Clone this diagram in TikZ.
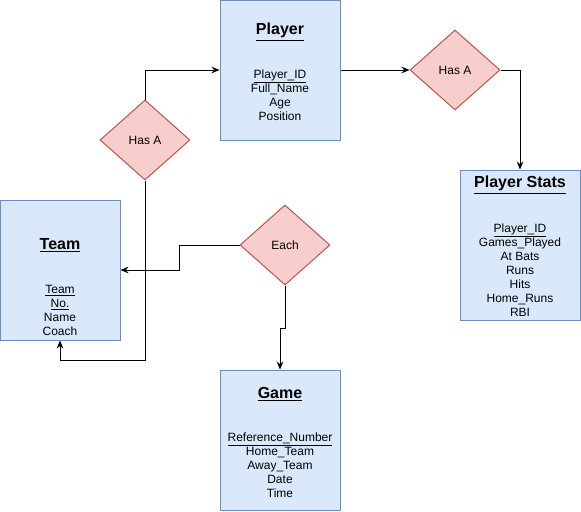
\documentclass[tikz,border=0pt]{standalone}
\usepackage{fontspec}
\setmainfont{Liberation Sans}
\usetikzlibrary{shapes.geometric,arrows.meta}
\definecolor{boxfill}{HTML}{DAE8FC}
\definecolor{boxline}{HTML}{6C8EBF}
\definecolor{relfill}{HTML}{F8CECC}
\definecolor{relline}{HTML}{B85450}
\tikzset{
  entity/.style={draw=boxline, fill=boxfill, line width=.75pt, minimum width=90pt, minimum height=105pt, inner sep=0pt},
  relation/.style={diamond, draw=relline, fill=relfill, line width=.75pt, minimum width=67.5pt, minimum height=60pt, aspect=1.125, inner sep=0pt, font=\fontsize{9}{10.5}\selectfont},
  title/.style={font=\fontsize{12}{14}\selectfont\bfseries},
  attrs/.style={align=center, inner sep=0pt, font=\fontsize{9}{10.5}\selectfont},
  arr/.style={line width=.75pt, -{Stealth[length=6pt,width=5pt]}}
}
\begin{document}
\begin{tikzpicture}[x=.75pt, y=-.75pt]
  \useasboundingbox (0,0) rectangle (581,511);
  % entities
  \node (player) at (280,70) [entity] {};
  \node (team) at (60,270) [entity] {};
  \node (stats) at (520,245) [entity, minimum height=112.5pt] {};
  \node (game) at (280,440) [entity] {};
  \node (playertitle) at (280,32) [title] {\underline{Player}};
  \node (playerattrs) at (280,95) [attrs] {\underline{Player\_ID}\\Full\_Name\\Age\\Position};
  \node (teamtitle) at (60,245) [title] {\underline{Team}};
  \node (teamattrs) at (60,310) [attrs] {\underline{Team}\\\underline{No.}\\Name\\Coach};
  \node (statstitle) at (520,185) [title] {\underline{Player Stats}};
  \node (statsattrs) at (520,270) [attrs] {\underline{Player\_ID}\\Games\_Played\\At Bats\\Runs\\Hits\\Home\_Runs\\RBI};
  \node (gametitle) at (280,394) [title] {\underline{Game}};
  \node (gameattrs) at (280,465) [attrs] {\underline{Reference\_Number}\\Home\_Team\\Away\_Team\\Date\\Time};
  % relations
  \node (hasa) at (145,140) [relation] {Has A};
  \node (hasb) at (455,70) [relation] {Has A};
  \node (each) at (285,245) [relation] {Each};
  \draw[arr] (hasa.north) |- (player.west);
  \draw[arr] (hasa.south) -- ++(0,180) -| (team.south);
  \draw[arr] (player.east) -- (hasb.west);
  \draw[arr] (hasb.east) -| (stats.north);
  \draw[arr] (each.west) -- ++(-60,0) |- (team.east);
  \draw[arr] (each.south) -- ++(0,43) -| (game.north);
\end{tikzpicture}
\end{document}
